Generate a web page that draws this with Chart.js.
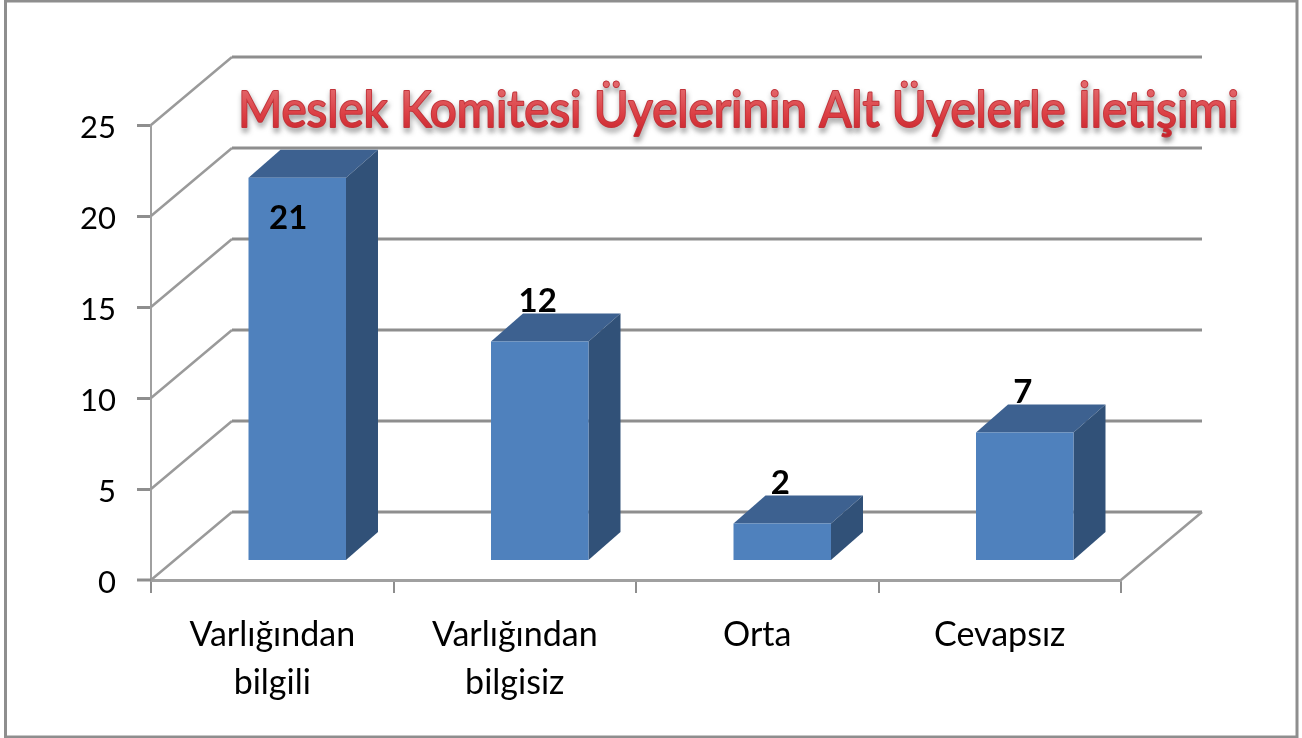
<!DOCTYPE html>
<html>
<head>
<meta charset="utf-8">
<script src="https://cdn.jsdelivr.net/npm/chart.js@4"></script>
<style>
  html, body { margin: 0; padding: 0; background: #fff; overflow: hidden; }
  canvas { display: block; filter: blur(0.5px); }
</style>
</head>
<body>
<canvas id="myChart" width="1302" height="738"></canvas>
<script>
const titleText = "Meslek Komitesi Üyelerinin Alt Üyelerle İletişimi";
const categories = [["Varlığından", "bilgili"], ["Varlığından", "bilgisiz"], "Orta", "Cevapsız"];
const values = [21, 12, 2, 7];

const fontName = "Lato, Carlito, sans-serif";
const gray = "#8e8e8e";

// 3D look: how far the back wall and the bars sit from the front plane
const wallDx = 81, wallDy = -68;
const barDx = 25, barDy = -20;
const depthDx = 32, depthDy = -28;

const frame3d = {
    id: "frame3d",
    beforeDraw(chart) {
        const ctx = chart.ctx;
        ctx.save();
        ctx.strokeStyle = gray;
        ctx.lineWidth = 3;
        ctx.strokeRect(5.5, 1, 1291.5, 736);
        ctx.restore();
        // y tick labels sit a little under their ticks in the original
        const y = chart.scales.y;
        if (!y.shifted) {
            const drawLabels = y.drawLabels;
            y.drawLabels = function (area) {
                ctx.save();
                ctx.translate(0, 3);
                drawLabels.call(y, area);
                ctx.restore();
            };
            y.shifted = true;
        }
    },
    beforeDatasetsDraw(chart) {
        const ctx = chart.ctx, y = chart.scales.y, area = chart.chartArea;
        ctx.save();
        y.ticks.forEach(function (t) {
            const py = y.getPixelForValue(t.value);
            ctx.lineWidth = 2.5;
            ctx.strokeStyle = "#9a9a9a";
            ctx.beginPath();
            ctx.moveTo(area.left, py);
            ctx.lineTo(area.left + wallDx, py + wallDy);
            ctx.stroke();
            ctx.lineWidth = 3;
            ctx.strokeStyle = gray;
            ctx.beginPath();
            ctx.moveTo(area.left + wallDx, py + wallDy);
            ctx.lineTo(area.right + wallDx, py + wallDy);
            ctx.stroke();
        });
        // tick at zero, its grid width is 0 so the bars reach the real base
        ctx.lineWidth = 3;
        ctx.strokeStyle = gray;
        ctx.beginPath();
        ctx.moveTo(area.left - 14, area.bottom);
        ctx.lineTo(area.left, area.bottom);
        ctx.stroke();
        // right edge of the floor
        ctx.lineWidth = 2.5;
        ctx.strokeStyle = "#9a9a9a";
        ctx.beginPath();
        ctx.moveTo(area.right, area.bottom);
        ctx.lineTo(area.right + wallDx, area.bottom + wallDy);
        ctx.stroke();
        ctx.restore();
    },
    beforeDatasetDraw(chart, args) {
        const ctx = chart.ctx;
        ctx.save();
        ctx.translate(barDx, barDy);
        args.meta.data.forEach(function (bar) {
            const p = bar.getProps(["x", "y", "base", "width"], true);
            const l = p.x - p.width / 2, r = p.x + p.width / 2;
            ctx.fillStyle = "#3d6190";
            ctx.beginPath();
            ctx.moveTo(l, p.y);
            ctx.lineTo(l + depthDx, p.y + depthDy);
            ctx.lineTo(r + depthDx, p.y + depthDy);
            ctx.lineTo(r, p.y);
            ctx.closePath();
            ctx.fill();
            ctx.fillStyle = "#315178";
            ctx.beginPath();
            ctx.moveTo(r, p.y);
            ctx.lineTo(r + depthDx, p.y + depthDy);
            ctx.lineTo(r + depthDx, p.base + depthDy);
            ctx.lineTo(r, p.base);
            ctx.closePath();
            ctx.fill();
        });
    },
    afterDatasetDraw(chart) {
        chart.ctx.restore();
    },
    afterDatasetsDraw(chart) {
        const ctx = chart.ctx, meta = chart.getDatasetMeta(0);
        ctx.save();
        ctx.font = "bold 33px " + fontName;
        ctx.fillStyle = "#000";
        ctx.textAlign = "center";
        ctx.textBaseline = "middle";
        meta.data.forEach(function (bar, i) {
            const inside = values[i] > 20;
            const lx = bar.x + barDx + (inside ? -9 : -2);
            const ly = bar.y + barDy + (inside ? 41 : -40);
            ctx.fillText(String(values[i]), lx, ly);
        });
        ctx.restore();
    },
    afterDraw(chart) {
        const ctx = chart.ctx;
        const tx = 238, ty = 127, tw = 1001;
        ctx.save();
        ctx.font = "51px " + fontName;
        ctx.textAlign = "left";
        ctx.textBaseline = "alphabetic";
        ctx.shadowColor = "rgba(70,70,70,0.75)";
        ctx.shadowBlur = 5;
        ctx.shadowOffsetX = 1;
        ctx.shadowOffsetY = 4;
        ctx.lineJoin = "round";
        ctx.lineWidth = 2;
        ctx.strokeStyle = "#c2343a";
        ctx.strokeText(titleText, tx, ty, tw);
        ctx.shadowColor = "transparent";
        const g = ctx.createLinearGradient(0, ty - 38, 0, ty + 8);
        g.addColorStop(0, "#e2666a");
        g.addColorStop(0.55, "#dc3f44");
        g.addColorStop(1, "#c8232b");
        ctx.fillStyle = g;
        ctx.fillText(titleText, tx, ty, tw);
        ctx.restore();
    }
};

new Chart(document.getElementById("myChart"), {
    type: "bar",
    data: {
        labels: categories,
        datasets: [{
            data: values,
            backgroundColor: "#4f81bd",
            borderWidth: 0,
            barPercentage: 0.402,
            categoryPercentage: 1
        }]
    },
    options: {
        responsive: false,
        animation: false,
        layout: { padding: { top: 125, right: 181, left: 0, bottom: 0 } },
        plugins: { legend: { display: false }, tooltip: { enabled: false }, title: { display: false } },
        scales: {
            x: {
                afterFit: function (scale) { scale.height = 158; },
                border: { color: "#a0a0a0", width: 3 },
                grid: { drawOnChartArea: false, drawTicks: true, tickLength: 13, color: gray, lineWidth: 2 },
                ticks: {
                    color: "#000",
                    padding: 18,
                    maxRotation: 0,
                    autoSkip: false,
                    font: { family: fontName, size: 34, lineHeight: 1.42 }
                }
            },
            y: {
                min: 0,
                max: 25,
                afterFit: function (scale) { scale.width = 151; },
                border: { color: "#a0a0a0", width: 2 },
                grid: {
                    drawOnChartArea: false,
                    drawTicks: true,
                    tickLength: 14,
                    color: gray,
                    lineWidth: function (c) { return c.tick && c.tick.value === 0 ? 0 : 3; }
                },
                ticks: {
                    color: "#000",
                    stepSize: 5,
                    padding: 21,
                    font: { family: fontName, size: 31 }
                }
            }
        }
    },
    plugins: [frame3d]
});
</script>
</body>
</html>
